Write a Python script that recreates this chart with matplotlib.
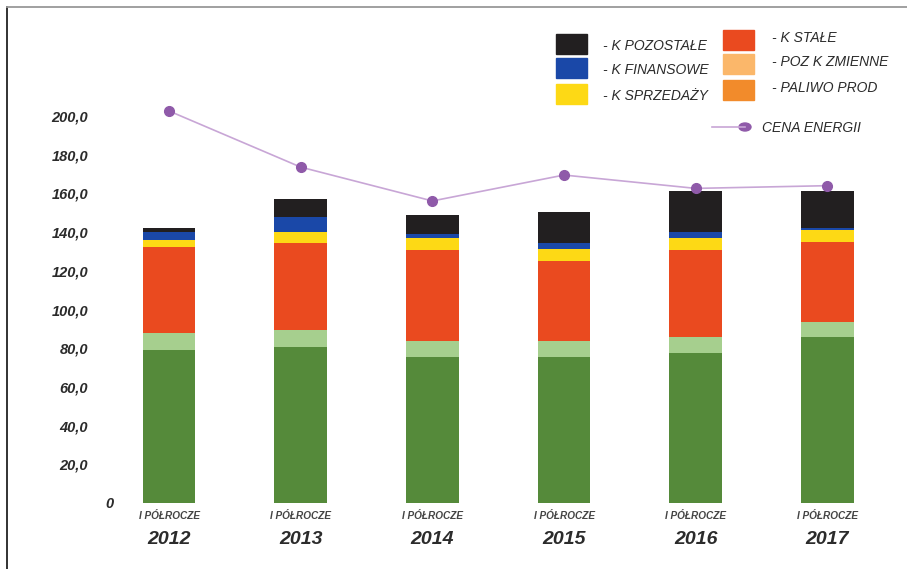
import matplotlib.pyplot as plt
import matplotlib.transforms as mtransforms
from matplotlib.patches import Rectangle, Ellipse
from matplotlib.lines import Line2D
import numpy as np

years = ["2012", "2013", "2014", "2015", "2016", "2017"]
period = "I PÓŁROCZE"

# stacked cost components, bottom to top
paliwo = [79.1, 80.8, 75.6, 75.3, 77.4, 85.6]
poz_zmienne = [8.6, 8.6, 8.3, 8.6, 8.2, 8.1]
k_stale = [44.4, 44.8, 46.8, 41.2, 45.1, 41.3]
k_sprzedazy = [3.8, 5.7, 6.3, 6.0, 6.1, 6.1]
k_finansowe = [4.3, 7.7, 1.8, 3.1, 3.4, 0.9]
k_pozostale = [1.8, 9.3, 10.3, 16.3, 21.2, 19.4]
cena_energii = [202.6, 173.6, 156.1, 169.5, 162.6, 164.0]

yticks = [0, 20, 40, 60, 80, 100, 120, 140, 160, 180, 200]

W, H = 907, 569
NARROW = ["Liberation Sans Narrow", "Liberation Sans"]
SANS = ["Liberation Sans", "DejaVu Sans"]
TXT = "#2b2b2b"


def px(x, y):
    return x / W, 1 - y / H


fig = plt.figure(figsize=(W / 100, H / 100), dpi=100)
fig.patch.set_facecolor("white")

ax = fig.add_axes([103.2 / W, (H - 503) / H, 790 / W, 416 / H])
ax.set_xlim(-0.5, 5.5)
ax.set_ylim(0, 215)
for s in ax.spines.values():
    s.set_visible(False)

x = np.arange(len(years))
layers = [
    (paliwo, "#558a3a"),
    (poz_zmienne, "#a6cf8e"),
    (k_stale, "#ea4a1f"),
    (k_sprzedazy, "#fdd915"),
    (k_finansowe, "#1a48a8"),
    (k_pozostale, "#221f20"),
]
bottom = np.zeros(len(years))
for vals, col in layers:
    ax.bar(x, vals, width=0.4, bottom=bottom, color=col, edgecolor="none")
    bottom += np.array(vals)

ax.plot(x, cena_energii, color="#c8a6d6", lw=1.2, zorder=3)
ax.plot(x, cena_energii, ls="none", marker="o", ms=7, color="#8f5aa9", zorder=4)

ax.set_xticks([])
ax.set_yticks(yticks)
ax.set_yticklabels([f"{v},0" if v else "0" for v in yticks],
                   fontsize=10.5, fontweight="bold", fontstyle="italic",
                   family=SANS, color=TXT)
ax.tick_params(axis="y", length=0, pad=11)
# the zero label sits further right
zero_lbl = ax.get_yticklabels()[0]
zero_lbl.set_transform(zero_lbl.get_transform() +
                       mtransforms.ScaledTranslation(26 / 100, 0, fig.dpi_scale_trans))

for i, yr in enumerate(years):
    ax.annotate(period, (i, 0), xytext=(0, -13), textcoords="offset pixels",
                ha="center", va="center", fontsize=7.2, fontweight="bold",
                fontstyle="italic", family=NARROW, color="#444444")
    ax.annotate(yr, (i, 0), xytext=(0, -37), textcoords="offset pixels",
                ha="center", va="center", fontsize=14, fontweight="bold",
                fontstyle="italic", family=NARROW, color=TXT)

# legend drawn by hand
legend_left = [("#221f20", "- K POZOSTAŁE", 34), ("#1a48a8", "- K FINANSOWE", 58),
               ("#fdd915", "- K SPRZEDAŻY", 84)]
legend_right = [("#ea4a1f", "- K STAŁE", 30), ("#fbb76a", "- POZ K ZMIENNE", 54),
                ("#f28b2b", "- PALIWO PROD", 80)]
for col, lab, ytop in legend_left:
    fig.add_artist(Rectangle(px(556, ytop + 20), 31 / W, 20 / H,
                             transform=fig.transFigure, color=col))
    fig.text(*px(603, ytop + 12), lab, fontsize=10, fontstyle="italic",
             family=SANS, color=TXT, va="center", ha="left")
for col, lab, ytop in legend_right:
    fig.add_artist(Rectangle(px(723, ytop + 20), 31 / W, 20 / H,
                             transform=fig.transFigure, color=col))
    fig.text(*px(772, ytop + 8), lab, fontsize=10, fontstyle="italic",
             family=SANS, color=TXT, va="center", ha="left")

fig.add_artist(Line2D([712 / W, 745 / W], [1 - 127 / H] * 2,
                      transform=fig.transFigure, color="#c8a6d6", lw=1.2))
fig.add_artist(Ellipse(px(745, 127), 12 / W, 8 / H,
                       transform=fig.transFigure, color="#8f5aa9"))
fig.text(*px(762, 128), "CENA ENERGII", fontsize=10, fontstyle="italic",
         family=SANS, color=TXT, va="center", ha="left")

# page frame
fig.add_artist(Line2D([7 / W, 7 / W], [0, 1 - 7 / H], transform=fig.transFigure,
                      color="#222222", lw=1.3))
fig.add_artist(Line2D([7 / W, 1], [1 - 7 / H] * 2, transform=fig.transFigure,
                      color="#999999", lw=1.3))

fig.savefig("out.png", dpi=100)
